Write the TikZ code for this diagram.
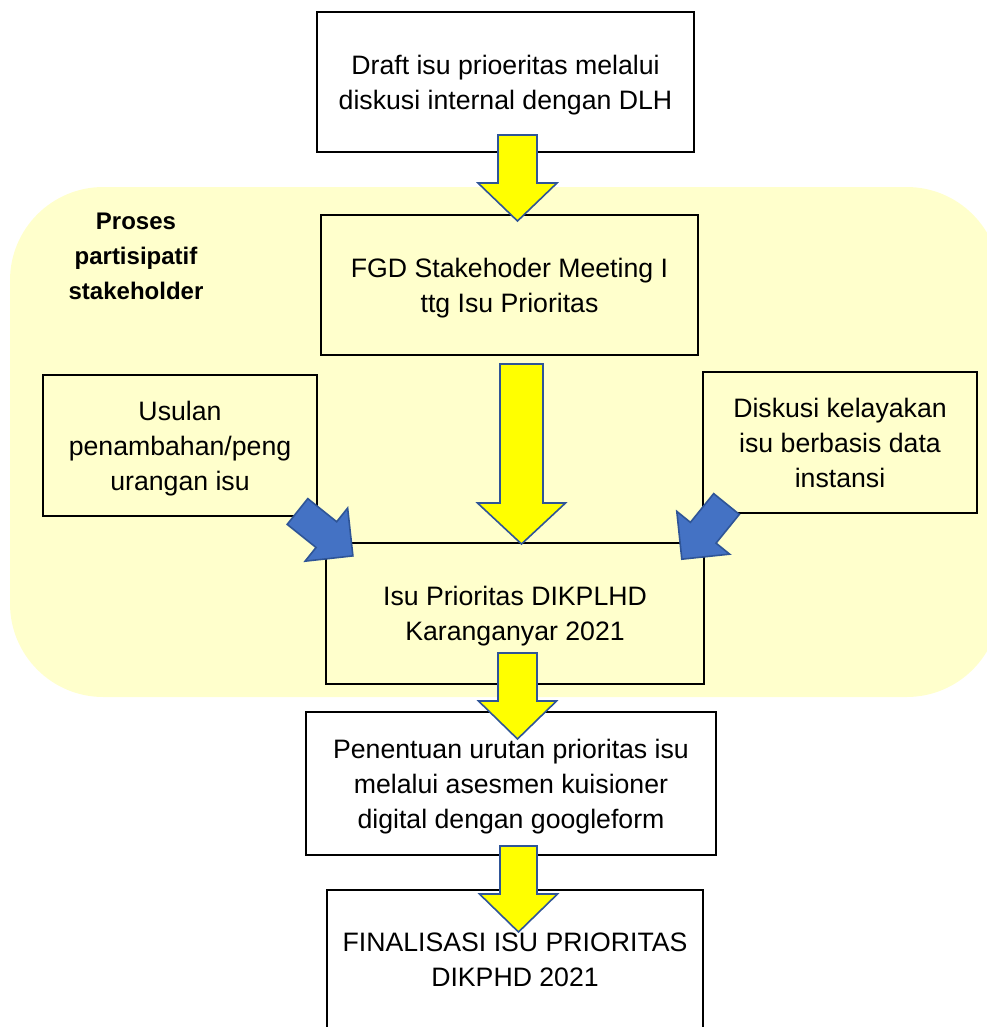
\documentclass[tikz,border=0pt]{standalone}
\usepackage{fontspec}
\setmainfont{Liberation Sans}
\usetikzlibrary{calc}

\tikzset{every picture/.style={line width=0.75pt}}
\definecolor{bgyellow}{RGB}{255,255,204}
\definecolor{arryellow}{RGB}{255,255,0}
\definecolor{arrblue}{RGB}{68,114,196}
\definecolor{arrborder}{RGB}{47,85,151}
\tikzset{
  box/.style={draw=black, line width=1.5pt, rectangle, align=center, inner sep=0.75pt,
    text depth=0pt, font=\fontsize{20}{26.25}\selectfont},
  yfill/.style={draw=arrborder, fill=arryellow, line width=1.2pt, line join=miter},
  bfill/.style={draw=arrborder, fill=arrblue, line width=1.2pt, line join=miter},
  pics/ydown/.style n args={4}{code={%
    \draw[yfill] (-#3,0) -- (-#3,#1-#2) -- (-#4,#1-#2) -- (0,#1) -- (#4,#1-#2) -- (#3,#1-#2) -- (#3,0) -- cycle ;}},
  pics/bluearr/.style={code={%
    \draw[bfill] (0,-16.5) -- (37,-16.5) -- (37,-34) -- (71,0) -- (37,34) -- (37,16.5) -- (0,16.5) -- cycle ;}}
}

\begin{document}
\begin{tikzpicture}[x=0.75pt,y=0.75pt,yscale=-1,xscale=1]
\useasboundingbox (0,0) rectangle (986,1027);

%Shape: Rounded Rectangle [background]
\fill[bgyellow, rounded corners=70pt] (10,187) rectangle (1000,697);

% Text Node
\node[align=center, font=\bfseries\fontsize{18}{26.25}\selectfont] (lbl) at (136,256) {Proses\\partisipatif\\stakeholder};

%Shape: Rectangle
\node[box, fill=white, minimum width=282.75pt, minimum height=105pt] (draft) at (505.5,82) {Draft isu prioeritas melalui\\diskusi internal dengan DLH};
%Shape: Rectangle
\node[box, fill=bgyellow, minimum width=282.75pt, minimum height=105pt] (fgd) at (509.5,285) {FGD Stakehoder Meeting I\\ttg Isu Prioritas};
%Shape: Rectangle
\node[box, fill=bgyellow, minimum width=205.5pt, minimum height=105.75pt] (usulan) at (180,445.5) {Usulan\\penambahan/peng\\urangan isu};
%Shape: Rectangle
\node[box, fill=bgyellow, minimum width=205.5pt, minimum height=105.75pt] (diskusi) at (840,442.5) {Diskusi kelayakan\\isu berbasis data\\instansi};
%Shape: Rectangle
\node[box, fill=bgyellow, minimum width=283.5pt, minimum height=105.75pt] (isu) at (515,613.5) {Isu Prioritas DIKPLHD\\Karanganyar 2021};
%Shape: Rectangle
\node[box, fill=white, minimum width=307.5pt, minimum height=107.25pt] (urutan) at (511,783.5) {Penentuan urutan prioritas isu\\melalui asesmen kuisioner\\digital dengan googleform};
%Shape: Rectangle
\node[box, fill=white, minimum width=282pt, minimum height=105pt] (final) at (515,960) {FINALISASI ISU PRIORITAS\\DIKPHD 2021};

%Down Arrows
\coordinate (a1) at ($(draft.south)+(12,-18)$);
\coordinate (a2) at ($(fgd.south)+(12,8)$);
\coordinate (a3) at ($(isu.south)+(2.5,-32)$);
\coordinate (a4) at ($(urutan.south)+(7.5,-10)$);
\pic[yscale=-1] at (a1) {ydown={86}{38}{19.5}{39.5}};
\pic[yscale=-1] at (a2) {ydown={180}{41}{21.5}{44}};
\pic[yscale=-1] at (a3) {ydown={86}{38}{19.5}{39}};
\pic[yscale=-1] at (a4) {ydown={86}{38}{18.5}{39}};

%Block Arrows
\coordinate (b1) at ($(usulan.south east)+(-20.5,-5.5)$);
\coordinate (b2) at ($(diskusi.south west)+(24.5,-10)$);
\pic[yscale=-1, rotate=38.7] at (b1) {bluearr};
\pic[yscale=-1, rotate=129] at (b2) {bluearr};

\end{tikzpicture}
\end{document}
